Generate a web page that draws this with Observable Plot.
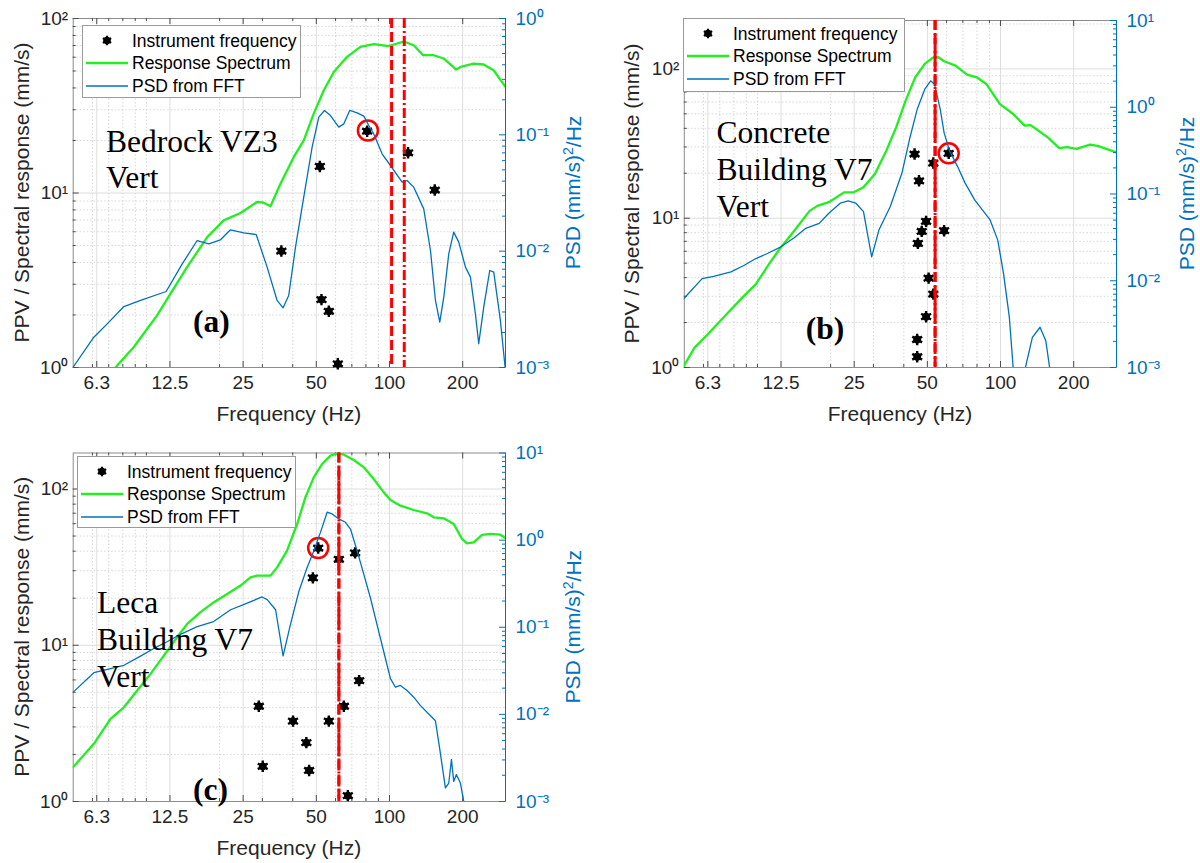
<!DOCTYPE html>
<html><head><meta charset="utf-8">
<script src="https://cdn.jsdelivr.net/npm/d3@7"></script>
<script src="https://cdn.jsdelivr.net/npm/@observablehq/plot@0.6"></script>
<style>
html,body{margin:0;padding:0;background:#fff;}
#root{position:relative;width:1200px;height:863px;overflow:hidden;background:#fff;}
#root svg{position:absolute;max-width:none;}
</style></head><body><div id="root"></div>
<script>
// ---------- shared axis values ----------
const xDomain = [5, 300];
const xTickValues = [6.25, 12.5, 25, 50, 100, 200];
const xTickLabels = ["6.3", "12.5", "25", "50", "100", "200"];
const xMinorValues = [6, 7, 8, 9, 10, 20, 30, 40, 60, 70, 80, 90];
const ppvMajor = [1, 10, 100];
const ppvMinor = [2, 3, 4, 5, 6, 7, 8, 9, 20, 30, 40, 50, 60, 70, 80, 90, 200];
const psdMajor = [0.001, 0.01, 0.1, 1, 10];
const psdMinor = [0.002,0.003,0.004,0.005,0.006,0.007,0.008,0.009,0.02,0.03,0.04,0.05,0.06,0.07,0.08,0.09,0.2,0.3,0.4,0.5,0.6,0.7,0.8,0.9,2,3,4,5,6,7,8,9];
const legendLabels = ["Instrument frequency", "Response Spectrum", "PSD from FFT"];

// ---------- panel (a) Bedrock VZ3 ----------
const aRsFreq = [7.2,7.46,8.88,11.07,12.57,14.7,17.8,20.8,24.4,28.5,30.4,32.4,35.6,40.4,44.4,48.8,53.7,59.0,66.9,75.9,86.1,99.3,107.4,114.5,125.8,137.4,152,167,188,196,222,244,268,300];
const aRsPPV  = [0.9,1.0,1.31,1.99,2.65,3.76,5.59,6.97,7.68,8.88,8.80,8.39,11.3,16.1,20.0,28.5,38.8,49.4,60.3,68.8,71.3,69.4,71.9,73.8,70.3,61.6,61.6,59.0,51.0,52.8,55.2,54.5,50.5,40.6];
const aPsdFreq = [5.0,6.08,6.90,8.08,9.46,12.06,14.04,16.18,18.07,20.17,22.18,25.17,28.29,31.38,34.49,36.5,38.5,41.05,43.7,48.05,51.2,54.0,57.2,61.85,64.9,68.6,73.6,78.4,82.2,86.1,93.2,100.9,112.7,118.1,125.8,138.3,147.4,154.5,161,167.2,175.3,183.7,192.7,205.3,215.2,225.6,232.8,244.1,258.4,268.4,285.8,299.7];
const aPsd     = [0.00101,0.00182,0.00237,0.00334,0.00377,0.0045,0.00778,0.01235,0.01156,0.01252,0.01526,0.01438,0.0139,0.00729,0.00377,0.00326,0.00416,0.01082,0.0239,0.0783,0.142,0.162,0.1466,0.1164,0.1243,0.162,0.1546,0.1447,0.1203,0.102,0.0687,0.0545,0.0392,0.0405,0.0355,0.0231,0.01013,0.00377,0.00245,0.00402,0.00949,0.01457,0.01195,0.00729,0.00598,0.00289,0.0016,0.0033,0.00682,0.0066,0.00254,0.00095];
const aInstFreq = [35.9,51.7,52.5,56.3,61.3,80.9,119.2,153.5];
const aInstPPV  = [4.65,14.2,2.45,2.10,1.05,22.6,17.0,10.4];
const aCircleFreq = [81.5], aCirclePPV = [22.8];
const aDashedFreq = [102], aDashDotFreq = [115];

// ---------- panel (b) Concrete Building V7 ----------
const bRsFreq = [4.94,5.51,6.25,7.36,8.68,9.85,11.4,12.48,14.17,16.39,17.63,19.66,22.7,24.9,27.3,30.4,33.9,37.2,40.7,44.6,48.8,52.5,55.5,58.6,65.3,72.8,79.8,87.4,99.2,112.7,125.7,132.7,140.2,156.4,174.4,187.6,205.4,233.3,250.9,300];
const bRsPPV  = [1.0,1.36,1.67,2.22,2.95,3.62,5.19,6.37,8.25,11.2,12.1,12.8,14.9,14.9,16.1,19.8,28.3,40.6,61.3,87.9,108,118.5,119.7,112.6,105.3,91.6,87.9,79.3,58.3,49.9,41.7,42.0,39.6,34.8,29.5,29.9,29.1,31.1,30.5,27.6];
const bPsdFreq = [4.90,5.92,6.60,7.78,8.83,9.85,10.99,12.48,14.17,15.8,17.95,19.66,21.9,23.6,25.4,27.3,29.5,31.6,35.2,39.3,42.2,45.4,48.8,51.6,53.5,56.5,58.6,61.8,66.5,71.5,78.3,84.2,90.6,97.4,102.9,108.7,112.7,118,126.6,135.2,145.4,153.5,159.2,163];
const bPsd     = [0.00593,0.01057,0.01125,0.01263,0.0151,0.01803,0.0206,0.0246,0.0313,0.0402,0.0459,0.06,0.0783,0.0833,0.0783,0.0627,0.01885,0.0384,0.0716,0.1744,0.4246,0.946,1.613,2.015,1.844,0.946,0.507,0.311,0.2084,0.1335,0.0856,0.0655,0.0502,0.0294,0.01208,0.0038,0.001,0.0003,0.001,0.00223,0.00291,0.00204,0.001,0.0005];
const bInstFreq = [44.3,46.2,52.9,49.4,47.4,45.7,50.6,52.9,49.4,45.4,45.4,58.6,61.2];
const bInstPPV  = [26.9,17.8,23.4,9.52,8.16,6.78,3.97,3.10,2.19,1.54,1.18,8.25,27.2];
const bCircleFreq = [61.2], bCirclePPV = [27.2];
const bDashedFreq = [53.8], bDashDotFreq = [53.8];

// ---------- panel (c) Leca Building V7 ----------
const cRsFreq = [5.0,6.08,7.12,8.08,9.17,10.4,11.8,13.38,14.72,16.7,18.9,21.5,24.4,26.8,28.5,32.4,34.5,37.9,41.7,45.1,48.8,52.8,57.2,60.9,64.9,71.3,78.4,86.1,94.7,100.9,110.9,125.8,142.7,152,167.2,183.7,198.8,208.4,222,240.3,260,285.8,300];
const cRsPPV  = [1.66,2.34,3.38,4.01,5.13,6.56,8.59,11.25,13.7,16.3,18.8,21.3,24.1,27.2,27.9,27.9,31.5,40.3,59.7,88.4,118.8,144.5,163.4,169,165.8,153.3,137.6,115.9,95.2,85.0,78.2,73.4,69.9,65.9,64.9,59.7,47.9,44.9,45.6,50.8,51.6,51.0,48.6];
const cPsdFreq = [5.0,6.08,7.12,8.08,9.46,10.73,12.17,13.81,16.18,18.9,22.2,26.0,29.9,31.4,34.0,36.5,39.1,42.4,45.8,48.8,52.0,55.4,58.1,61.9,65.9,69.1,73.6,78.4,83.5,88.9,94.7,100.9,105.8,110.9,118.1,125.8,134.1,147.4,154.5,161,169.8,175.3,179.8,183.7,188.4,195.7,202,206];
const cPsd     = [0.018,0.0301,0.0335,0.0366,0.0466,0.0571,0.0682,0.083,0.1018,0.1163,0.1588,0.1897,0.2226,0.2073,0.1588,0.047,0.1064,0.2588,0.4826,0.752,1.227,2.09,2.0,1.751,1.602,1.341,0.752,0.404,0.2168,0.1064,0.0523,0.0257,0.0205,0.0215,0.0188,0.01574,0.0126,0.00965,0.00845,0.00397,0.00143,0.00163,0.00304,0.0017,0.00204,0.00163,0.001,0.0005];
const cInstFreq = [29.0,30.1,40.1,45.5,46.7,50.9,48.4,61.9,72.2,56.3,64.9,75.0,67.4];
const cInstPPV  = [4.07,1.68,3.27,2.38,1.58,41.9,27.0,35.5,39.0,3.27,4.07,5.94,1.09];
const cCircleFreq = [50.9], cCirclePPV = [41.9];
const cDashedFreq = [61.9], cDashDotFreq = [61.9];

// ---------- styling ----------
const GREEN = "#22ee22", BLUE = "#0072BD", RED = "#ff0000", INK = "#262626";
const SANS = "'Liberation Sans', Arial, Helvetica, sans-serif";
const SERIF = "'Liberation Serif', 'Times New Roman', serif";
const supMap = {"-": "\u207B", "0": "\u2070", "1": "\u00B9", "2": "\u00B2", "3": "\u00B3", "4": "\u2074"};
const sup = v => "10" + String(Math.round(Math.log10(v))).split("").map(c => supMap[c]).join("");
const zip = (xs, ys, k) => xs.map((x, i) => ({f: x, [k]: ys[i]}));
const xTicks = xTickValues.map((v, i) => ({v, label: xTickLabels[i]}));

const panels = [
  {left: 0, top: 0, width: 600, height: 430, mL: 72.7, mR: 95, mT: 18, mB: 63,
   yDomain: [1, 100], pDomain: [0.001, 1],
   rs: zip(aRsFreq, aRsPPV, "v"), psd: zip(aPsdFreq, aPsd, "p"), inst: zip(aInstFreq, aInstPPV, "v"),
   circle: zip(aCircleFreq, aCirclePPV, "v"), dashed: aDashedFreq, dashdot: aDashDotFreq,
   legend: [82, 25, 218, 72], notes: [["Bedrock VZ3", 106, 152], ["Vert", 106, 188]], tag: ["(a)", 193, 332],
   yTitle: [22, 192.5], xTitle: [288.9, 421], pTitle: [573, 192.5]},
  {left: 600, top: 0, width: 600, height: 430, mL: 83.8, mR: 84, mT: 20, mB: 63,
   yDomain: [1, 211], pDomain: [0.001, 10],
   rs: zip(bRsFreq, bRsPPV, "v"), psd: zip(bPsdFreq, bPsd, "p"), inst: zip(bInstFreq, bInstPPV, "v"),
   circle: zip(bCircleFreq, bCirclePPV, "v"), dashed: bDashedFreq, dashdot: bDashDotFreq,
   legend: [683, 18, 221, 73], notes: [["Concrete", 716.5, 143], ["Building V7", 716.5, 180], ["Vert", 716.5, 217]], tag: ["(b)", 805.8, 339],
   yTitle: [632, 193.5], xTitle: [900, 421], pTitle: [1186.5, 193.5]},
  {left: 0, top: 430, width: 600, height: 433, mL: 72.7, mR: 95, mT: 22.5, mB: 62,
   yDomain: [1, 170], pDomain: [0.001, 10],
   rs: zip(cRsFreq, cRsPPV, "v"), psd: zip(cPsdFreq, cPsd, "p"), inst: zip(cInstFreq, cInstPPV, "v"),
   circle: zip(cCircleFreq, cCirclePPV, "v"), dashed: cDashedFreq, dashdot: cDashDotFreq,
   legend: [77, 456, 218, 71], notes: [["Leca", 97, 613], ["Building V7", 97, 650], ["Vert", 97, 687]], tag: ["(c)", 193, 800],
   yTitle: [22, 626.7], xTitle: [288.9, 855], pTitle: [573, 626.7]}
];

const root = document.getElementById("root");

for (const p of panels) {
  const fw = p.width - p.mL - p.mR, fh = p.height - p.mT - p.mB;
  const common = {width: p.width, height: p.height, marginLeft: p.mL, marginRight: p.mR, marginTop: p.mT, marginBottom: p.mB};
  const inY = v => v > p.yDomain[0] && v < p.yDomain[1];
  const inP = v => v > p.pDomain[0] && v < p.pDomain[1];
  const yMaj = ppvMajor.filter(v => v >= p.yDomain[0] && v <= p.yDomain[1]);
  const yMin = ppvMinor.filter(inY);
  const pMaj = psdMajor.filter(v => v >= p.pDomain[0] && v <= p.pDomain[1]);
  const pMin = psdMinor.filter(inP);

  const base = Plot.plot({
    ...common,
    style: {fontFamily: SANS, fontSize: "19px", color: INK, background: "white", overflow: "visible"},
    x: {type: "log", domain: xDomain, axis: null},
    y: {type: "log", domain: p.yDomain, axis: null},
    marks: [
      Plot.gridX(xMinorValues, {stroke: "#c4c4c4", strokeOpacity: 1, strokeWidth: 0.7, strokeDasharray: "1.5,2"}),
      Plot.gridY(yMin, {stroke: "#c4c4c4", strokeOpacity: 1, strokeWidth: 0.7, strokeDasharray: "1.5,2"}),
      Plot.gridX(xTickValues, {stroke: "#dedede", strokeOpacity: 1, strokeWidth: 1}),
      Plot.gridY(yMaj, {stroke: "#dedede", strokeOpacity: 1, strokeWidth: 1}),
      Plot.frame({stroke: "#8c8c8c", strokeWidth: 1}),
      Plot.tickX(xTickValues, {insetTop: fh - 6, stroke: "#4d4d4d"}),
      Plot.tickX(xTickValues, {insetBottom: fh - 6, stroke: "#4d4d4d"}),
      Plot.tickX(xMinorValues, {insetTop: fh - 3, stroke: "#4d4d4d"}),
      Plot.tickX(xMinorValues, {insetBottom: fh - 3, stroke: "#4d4d4d"}),
      Plot.tickY(yMaj, {insetRight: fw - 6, stroke: "#4d4d4d"}),
      Plot.tickY(yMin, {insetRight: fw - 3, stroke: "#4d4d4d"}),
      Plot.text(xTicks, {x: "v", text: "label", frameAnchor: "bottom", dy: 21, fontSize: 19, fill: INK, textAnchor: "middle"}),
      Plot.axisY(yMaj, {tickSize: 0, tickPadding: 5, label: null, tickFormat: sup}),
      Plot.line(p.rs, {x: "f", y: "v", stroke: GREEN, strokeWidth: 2.3, clip: true}),
      Plot.dot(p.inst, {x: "f", y: "v", r: 3.9, fill: "black", stroke: "none"}),
      Plot.dot(p.inst, {x: "f", y: "v", symbol: "asterisk", r: 5.4, stroke: "black", strokeWidth: 2.4}),
      Plot.dot(p.circle, {x: "f", y: "v", r: 10, stroke: RED, strokeWidth: 2.5, fill: "none"})
    ]
  });
  base.style.left = p.left + "px";
  base.style.top = p.top + "px";
  root.appendChild(base);

  const over = Plot.plot({
    ...common,
    style: {fontFamily: SANS, fontSize: "19px", color: BLUE, background: "transparent", overflow: "visible"},
    x: {type: "log", domain: xDomain, axis: null},
    y: {type: "log", domain: p.pDomain, axis: null},
    marks: [
      Plot.line(p.psd, {x: "f", y: "p", stroke: BLUE, strokeWidth: 1.3, clip: true}),
      Plot.ruleX(p.dashed, {stroke: RED, strokeWidth: 3, strokeDasharray: "10,4"}),
      Plot.ruleX(p.dashdot, {stroke: RED, strokeWidth: 3, strokeDasharray: "10,3,2,3"}),
      Plot.ruleX([xDomain[1]], {stroke: BLUE, strokeWidth: 1}),
      Plot.tickY(pMaj, {insetLeft: fw - 6, stroke: BLUE}),
      Plot.tickY(pMin, {insetLeft: fw - 3, stroke: BLUE}),
      Plot.axisY(pMaj, {anchor: "right", tickSize: 0, tickPadding: 10, label: null, tickFormat: sup, color: BLUE})
    ]
  });
  over.style.left = p.left + "px";
  over.style.top = p.top + "px";
  root.appendChild(over);
}

// ---------- titles, legends and annotations ----------
const txt = d3.create("svg").attr("width", 1200).attr("height", 863)
  .style("left", "0px").style("top", "0px").style("pointer-events", "none");

for (const p of panels) {
  txt.append("text").attr("transform", `translate(${p.yTitle[0]},${p.yTitle[1]}) rotate(-90)`)
    .attr("text-anchor", "middle").attr("dy", "0.35em").attr("font-family", SANS).attr("font-size", 21)
    .attr("fill", INK).text("PPV / Spectral response (mm/s)");
  txt.append("text").attr("x", p.xTitle[0]).attr("y", p.xTitle[1])
    .attr("text-anchor", "middle").attr("font-family", SANS).attr("font-size", 21)
    .attr("fill", INK).text("Frequency (Hz)");
  const pt = txt.append("text").attr("transform", `translate(${p.pTitle[0]},${p.pTitle[1]}) rotate(-90)`)
    .attr("text-anchor", "middle").attr("dy", "0.35em").attr("font-family", SANS).attr("font-size", 21)
    .attr("fill", BLUE);
  pt.append("tspan").text("PSD (mm/s)");
  pt.append("tspan").attr("font-size", 14).attr("dy", "-0.55em").text("2");
  pt.append("tspan").attr("dy", "0.38em").text("/Hz");

  for (const [s, x, y] of p.notes) {
    txt.append("text").attr("x", x).attr("y", y).attr("font-family", SERIF).attr("font-size", 31.5)
      .attr("fill", "black").text(s);
  }
  txt.append("text").attr("x", p.tag[1]).attr("y", p.tag[2]).attr("font-family", SERIF).attr("font-size", 31.5)
    .attr("font-weight", "bold").attr("fill", "black").text(p.tag[0]);

  const [lx, ly, lw, lh] = p.legend;
  const g = txt.append("g").attr("transform", `translate(${lx},${ly})`);
  g.append("rect").attr("x", 0.5).attr("y", 0.5).attr("width", lw).attr("height", lh)
    .attr("fill", "white").attr("stroke", "#9a9a9a").attr("stroke-width", 1);
  const rows = [15.5, 38, 61];
  g.append("circle").attr("cx", 25).attr("cy", rows[0]).attr("r", 3.8).attr("fill", "black");
  g.append("path").attr("transform", `translate(25,${rows[0]})`)
    .attr("d", d3.symbol(d3.symbolAsterisk, 64)()).attr("stroke", "black").attr("stroke-width", 2.2).attr("fill", "none");
  g.append("line").attr("x1", 4).attr("x2", 46).attr("y1", rows[1]).attr("y2", rows[1])
    .attr("stroke", GREEN).attr("stroke-width", 2.3);
  g.append("line").attr("x1", 4).attr("x2", 46).attr("y1", rows[2]).attr("y2", rows[2])
    .attr("stroke", BLUE).attr("stroke-width", 1.3);
  legendLabels.forEach((s, i) => {
    g.append("text").attr("x", 50).attr("y", rows[i]).attr("dy", "0.36em")
      .attr("font-family", SANS).attr("font-size", 17.5).attr("fill", "black").text(s);
  });
}
root.appendChild(txt.node());
</script>
</body></html>
